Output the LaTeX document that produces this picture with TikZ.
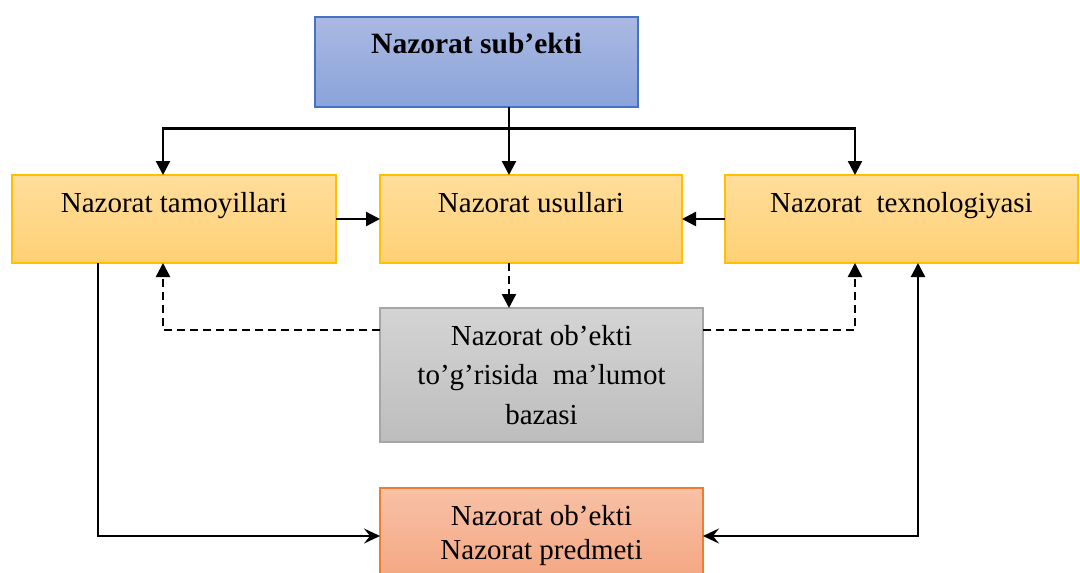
\documentclass[tikz,border=0pt]{standalone}
\usepackage{fontspec}
\setmainfont{Liberation Serif}
\usetikzlibrary{arrows.meta, positioning}
\definecolor{blueline}{RGB}{68, 114, 196}
\definecolor{bluetop}{RGB}{170, 185, 226}
\definecolor{bluebot}{RGB}{138, 163, 218}
\definecolor{goldline}{RGB}{255, 192, 0}
\definecolor{goldtop}{RGB}{255, 221, 155}
\definecolor{goldbot}{RGB}{255, 209, 118}
\definecolor{greyline}{RGB}{166, 166, 166}
\definecolor{greytop}{RGB}{212, 212, 212}
\definecolor{greybot}{RGB}{189, 189, 189}
\definecolor{salmonline}{RGB}{237, 125, 49}
\definecolor{salmontop}{RGB}{248, 193, 166}
\definecolor{salmonbot}{RGB}{244, 165, 128}
\tikzstyle{subject} = [rectangle, minimum width=323pt, text height=36pt, text depth=54pt, inner ysep=0pt, outer sep=0pt, text centered, draw=blueline, line width=1.2pt, top color=bluetop, bottom color=bluebot, font=\fontsize{29.5}{39}\selectfont\bfseries]
\tikzstyle{tool} = [rectangle, text height=37pt, text depth=51pt, inner ysep=0pt, outer sep=0pt, text centered, draw=goldline, line width=1.2pt, top color=goldtop, bottom color=goldbot]
\tikzstyle{database} = [rectangle, minimum width=323pt, minimum height=134pt, outer sep=0pt, align=center, draw=greyline, line width=1.2pt, top color=greytop, bottom color=greybot, font=\fontsize{29}{39.5}\selectfont]
\tikzstyle{object} = [rectangle, minimum width=323pt, minimum height=96pt, outer sep=0pt, align=center, draw=salmonline, line width=1.2pt, top color=salmontop, bottom color=salmonbot, font=\fontsize{29}{34}\selectfont]
\tikzstyle{arrow} = [line width=2.4pt, -{Triangle[length=14pt, width=14pt]}]
\tikzstyle{dashedarrow} = [line width=2.4pt, dash pattern=on 8pt off 5pt, -{Triangle[length=14pt, width=14pt]}]
\tikzstyle{plainarrow} = [line width=2.4pt, -{Stealth[length=16pt, width=15pt, inset=6pt]}]

\begin{document}
\begin{tikzpicture}[x=1pt, y=1pt, font=\fontsize{29}{39}\selectfont]
\useasboundingbox (0,0) rectangle (1080,-573);

% Nodes
\node (subject) [subject] at (476.5,-62) {Nazorat sub’ekti};
\node (methods) [tool, below=68pt of subject, xshift=54.5pt, minimum width=302pt] {Nazorat usullari};
\node (principles) [tool, left=44pt of methods, minimum width=324pt] {Nazorat tamoyillari};
\node (technology) [tool, right=43pt of methods, minimum width=353pt] {Nazorat \ texnologiyasi};
\node (database) [database, below=45pt of methods, xshift=10.5pt] {Nazorat ob’ekti\\to’g’risida \ ma’lumot\\bazasi};
\node (object) [object, below=46pt of database] {Nazorat ob’ekti\\Nazorat predmeti};
\coordinate (split) at (509,-128.5);

% Arrows from the subject
\draw [arrow] (subject.south -| split) -- (methods.north -| split);
\draw [arrow] (split) -| ([xshift=-11pt]principles.north);
\draw [arrow] (split) -| ([xshift=-46.5pt]technology.north);

% Arrows into the methods
\draw [arrow] (principles) -- (methods);
\draw [arrow] (technology) -- (methods);

% Dashed arrows for the data base
\draw [dashedarrow] (methods.south -| split) -- (database.north -| split);
\draw [dashedarrow] ([yshift=45pt]database.west) -| ([xshift=-11pt]principles.south);
\draw [dashedarrow] ([yshift=45pt]database.east) -| ([xshift=-46.5pt]technology.south);

% Arrows to the object
\draw [plainarrow] ([xshift=-76pt]principles.south) |- (object.west);
\draw [plainarrow, {Triangle[length=14pt, width=14pt]}-{Stealth[length=16pt, width=15pt, inset=6pt]}] ([xshift=16.5pt]technology.south) |- (object.east);

\end{tikzpicture}
\end{document}
